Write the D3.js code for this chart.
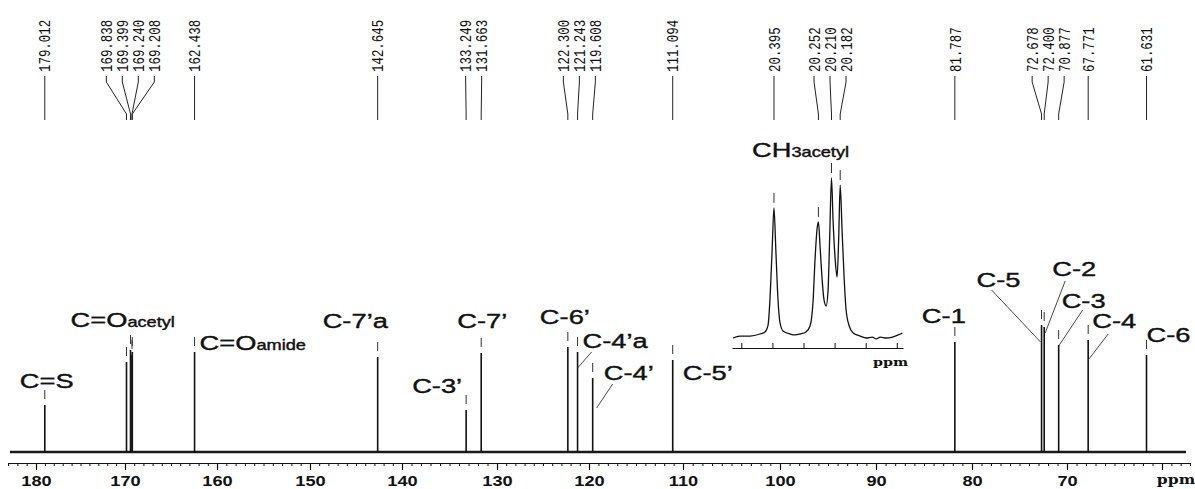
<!doctype html>
<html>
<head>
<meta charset="utf-8">
<script src="https://cdn.jsdelivr.net/npm/d3@7/dist/d3.min.js"></script>
<style>
  body { margin: 0; background: #fff; }
  svg text { fill: #111; }
</style>
</head>
<body>
<svg id="chart" width="1195" height="489"></svg>
<script>
// 13C peaks of the main spectrum (ppm, relative height)
const peakPpm    = [179.012, 169.838, 169.399, 169.240, 169.208, 162.438, 142.645, 133.249, 131.663,
                    122.300, 121.243, 119.608, 111.094, 81.787, 72.678, 72.400, 70.877, 67.771, 61.631];
const peakHeight = [23.5, 45, 51, 48.5, 50, 50, 47.5, 21, 49.5,
                    52.5, 50, 37, 46, 55, 63.5, 62.5, 53.5, 56, 48.5];

// expanded CH3 acetyl region (inset)
const insetPeakPpm = [20.395, 20.252, 20.210, 20.182];
const insetPpm = [20.527, 20.505, 20.472, 20.440, 20.424, 20.414, 20.408, 20.401, 20.395, 20.389, 20.382, 20.376,
                  20.366, 20.343, 20.327, 20.311, 20.292, 20.279, 20.269, 20.263, 20.256, 20.252, 20.247, 20.240,
                  20.234, 20.227, 20.221, 20.216, 20.210, 20.205, 20.198, 20.192, 20.187, 20.182, 20.176, 20.169,
                  20.163, 20.153, 20.140, 20.118, 20.098, 20.079, 20.066, 20.053, 20.034, 20.014, 19.995, 19.982];
const insetInt = [0, 1.2, 1.2, 2.5, 3.8, 8.1, 23.8, 55, 81.3, 55, 23.8, 10,
                  4.4, 2.5, 1.9, 2.5, 3.8, 7.5, 23.8, 48.8, 68.8, 72.5, 58.1, 36.3,
                  23.8, 20, 30, 61.3, 100, 73.8, 48.8, 38.1, 61.3, 95.6, 67.5, 36.3,
                  17.5, 7.5, 3.1, 1.2, 0, 0.6, -0.6, 0.6, 0, 0.6, 1.9, 3.1];
const insetTicks = [20.5, 20.4, 20.3, 20.2, 20.1, 20.0];

// axis
const majorTicks = [180, 170, 160, 150, 140, 130, 120, 110, 100, 90, 80, 70, 60];

// assignments
const labelMain = ["C=S", "C=O", "C=O", "C-7’a", "C-3’", "C-7’", "C-6’", "C-4’a", "C-4’", "C-5’",
                   "C-1", "C-5", "C-2", "C-3", "C-4", "C-6"];
const labelSub  = ["", "acetyl", "amide", "", "", "", "", "", "", "", "", "", "", "", "", ""];
const labelPpm  = [179.012, 169.399, 162.438, 142.645, 133.249, 131.663, 122.300, 121.243, 119.608, 111.094,
                   81.787, 72.678, 72.400, 70.877, 67.771, 61.631];

const svg = d3.select("#chart");
const SX = 1.3; // the original figure is stretched sideways

// scan is slightly non-linear, so the ppm scale follows the printed ticks
const x = d3.scaleLinear()
  .domain([183, 180, 170, 160, 150, 140, 130, 120, 110, 100, 90, 80, 70, 60, 57])
  .range([8, 36, 125, 217, 310, 402, 497, 589, 683, 780, 876, 972, 1067, 1162, 1190]);
const y = d3.scaleLinear().domain([0, 100]).range([452, 252]);

// baseline
svg.append("path")
  .attr("d", d3.line()([[x(183) + 2, y(0)], [x(57) - 4, y(0)]]))
  .attr("stroke", "#1a1a1a").attr("stroke-width", 2.6).attr("fill", "none");

// peaks
const peaks = peakPpm.map((p, i) => ({ppm: p, h: peakHeight[i]}));
svg.selectAll("line.peak").data(peaks).enter().append("line")
  .attr("class", "peak")
  .attr("x1", d => x(d.ppm)).attr("x2", d => x(d.ppm))
  .attr("y1", y(0)).attr("y2", d => y(d.h))
  .attr("stroke", "#111").attr("stroke-width", 1.6);

// peak-pick marks above the tops
svg.selectAll("line.mark").data(peaks).enter().append("line")
  .attr("x1", d => x(d.ppm)).attr("x2", d => x(d.ppm))
  .attr("y1", d => y(d.h) - 15).attr("y2", d => y(d.h) - 6)
  .attr("stroke", "#333").attr("stroke-width", 1);

// axis: minor + major ticks
const minorAxis = d3.axisBottom(x).tickValues(d3.range(57, 184, 1)).tickSize(3).tickSizeOuter(0).tickFormat("");
svg.append("g").attr("transform", `translate(0,${463})`).call(minorAxis)
  .call(g => g.select(".domain").remove());
const majorAxis = d3.axisBottom(x).tickValues(majorTicks).tickSize(7).tickSizeOuter(0).tickPadding(6)
  .tickFormat(d => d === 60 ? "" : d);
const gx = svg.append("g").attr("transform", `translate(0,${463})`).call(majorAxis);
gx.selectAll("path, line").attr("stroke", "#111").attr("stroke-width", 1.2);
gx.selectAll("text").attr("font-family", "Liberation Sans, Arial, sans-serif").attr("font-weight", "bold")
  .attr("font-size", 14).attr("fill", "#111").attr("transform", `scale(${SX},1)`);
svg.selectAll("g.tick line").attr("stroke", "#111");
svg.append("text").attr("transform", `translate(${x(60) + 14},484) scale(${SX},1)`)
  .attr("text-anchor", "middle").attr("font-family", "DejaVu Serif, serif").attr("font-weight", "bold")
  .attr("font-size", 12).text("ppm");

// inset
const xi = d3.scaleLinear().domain([20.53, 19.98]).range([732, 903]);
const yi = d3.scaleLinear().domain([0, 100]).range([338, 178]);
const inset = svg.append("g");
inset.append("path")
  .datum(insetPpm.map((p, i) => [p, insetInt[i]]))
  .attr("d", d3.line().x(d => xi(d[0])).y(d => yi(d[1])).curve(d3.curveMonotoneX))
  .attr("fill", "none").attr("stroke", "#111").attr("stroke-width", 1.3);
inset.selectAll("line.imark").data(insetPeakPpm).enter().append("line")
  .attr("x1", d => xi(d)).attr("x2", d => xi(d))
  .attr("y1", d => yi(insetInt[insetPpm.indexOf(d)]) - 15)
  .attr("y2", d => yi(insetInt[insetPpm.indexOf(d)]) - 5)
  .attr("stroke", "#333").attr("stroke-width", 1);
const ia = inset.append("g").attr("transform", "translate(0,348)")
  .call(d3.axisTop(xi).tickValues(insetTicks).tickSize(5).tickSizeOuter(0).tickFormat(""));
ia.selectAll("path, line").attr("stroke", "#111");
inset.append("text").attr("transform", `translate(${xi(20.02)},366) scale(${SX},1)`)
  .attr("text-anchor", "middle").attr("font-family", "DejaVu Serif, serif").attr("font-weight", "bold")
  .attr("font-size", 11).text("ppm");
const ch = inset.append("text").attr("transform", `translate(752,157) scale(${SX},1)`)
  .attr("font-family", "Liberation Sans, Arial, sans-serif")
  .attr("stroke", "#111").attr("stroke-width", 0.4);
ch.append("tspan").attr("font-size", 21).text("CH");
ch.append("tspan").attr("font-size", 14).text("3acetyl");

// top peak list: rotated values with fan-out leaders
const listItems = peakPpm.map(p => ({v: p, px: x(p)}))
  .concat(insetPeakPpm.map(p => ({v: p, px: xi(p)})))
  .sort((a, b) => a.px - b.px);
const gap = 16;
let groups = listItems.map(d => ({items: [d]}));
let moved = true;
while (moved) {
  moved = false;
  groups.forEach(g => {
    const m = d3.mean(g.items, d => d.px);
    g.start = m - (g.items.length - 1) * gap / 2;
  });
  for (let i = 0; i < groups.length - 1; i++) {
    const a = groups[i], b = groups[i + 1];
    if (a.start + a.items.length * gap > b.start) {
      a.items = a.items.concat(b.items);
      groups.splice(i + 1, 1);
      moved = true;
      break;
    }
  }
}
groups.forEach(g => g.items.forEach((d, k) => d.lx = g.start + k * gap));

svg.selectAll("path.leader").data(listItems).enter().append("path")
  .attr("d", d => `M${d.lx},76V82L${d.px},114V120`)
  .attr("fill", "none").attr("stroke", "#222").attr("stroke-width", 1);
svg.selectAll("text.val").data(listItems).enter().append("text")
  .attr("transform", d => `translate(${d.lx},72) scale(${SX},1) rotate(-90)`)
  .attr("dy", "0.35em")
  .attr("font-family", "Liberation Mono, DejaVu Sans Mono, monospace")
  .attr("font-size", 12.4)
  .text(d => d.v.toFixed(3));

// assignment labels: offsets from the peak top they name
const labelLayout = {
  "C=S":   {dx: -25, dy: -17},
  "C=Oacetyl": {dx: -60, dy: -23},
  "C=Oamide":  {dx: 5, dy: -2},
  "C-7’a": {dx: -55, dy: -29},
  "C-3’":  {dx: -54, dy: -17},
  "C-7’":  {dx: -24, dy: -25},
  "C-6’":  {dx: -28, dy: -23},
  "C-4’a": {dx: 5, dy: -4, from: [9, 4], to: [0, 16]},
  "C-4’":  {dx: 11, dy: 2, from: [9, 4], to: [4, 30]},
  "C-5’":  {dx: 10, dy: 20},
  "C-1":   {dx: -33, dy: -19},
  "C-5":   {dx: -65, dy: -38, from: [15, 3], to: [-1, 17]},
  "C-2":   {dx: 8, dy: -51, from: [13, 5], to: [1, 6]},
  "C-3":   {dx: 3, dy: -37, from: [21, 2], to: [0, 1]},
  "C-4":   {dx: 4, dy: -12, from: [16, 6], to: [0, 20]},
  "C-6":   {dx: 0, dy: -13}
};
labelMain.forEach((t, i) => {
  const key = t + labelSub[i];
  const L = labelLayout[key];
  const hp = peakHeight[peakPpm.indexOf(labelPpm[i])];
  const px = x(labelPpm[i]), top = y(hp);
  const lx = px + L.dx, ly = top + L.dy;
  const txt = svg.append("text").attr("transform", `translate(${lx},${ly}) scale(${SX},1)`)
    .attr("font-family", "Liberation Sans, Arial, sans-serif")
    .attr("stroke", "#111").attr("stroke-width", 0.4);
  txt.append("tspan").attr("font-size", 21).text(t);
  if (labelSub[i]) txt.append("tspan").attr("font-size", 14).text(labelSub[i]);
  if (L.from) {
    svg.append("line")
      .attr("x1", lx + L.from[0]).attr("y1", ly + L.from[1])
      .attr("x2", px + L.to[0]).attr("y2", top + L.to[1])
      .attr("stroke", "#333").attr("stroke-width", 0.9);
  }
});
</script>
</body>
</html>
